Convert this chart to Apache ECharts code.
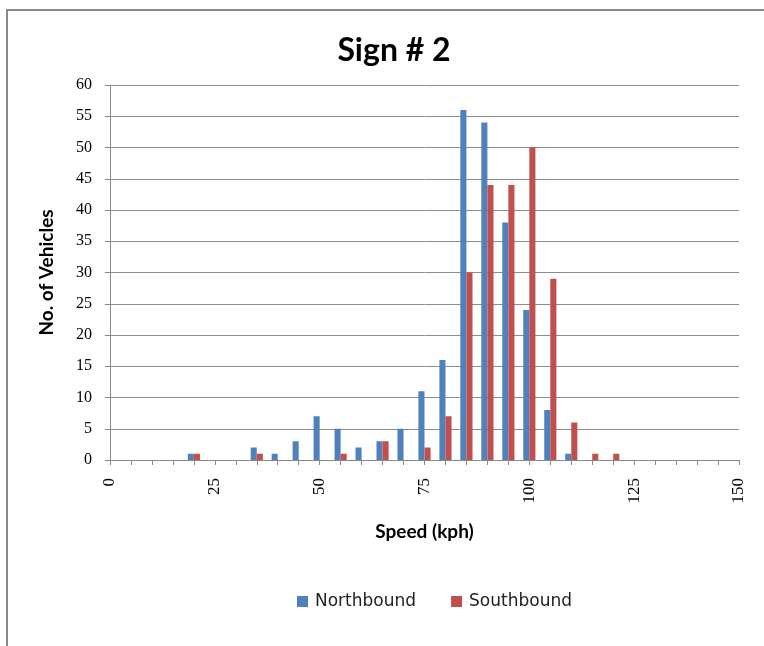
<!DOCTYPE html>
<html>
<head>
<meta charset="utf-8">
<script src="https://cdn.jsdelivr.net/npm/echarts@6/dist/echarts.min.js"></script>
<style>
  html, body { margin: 0; padding: 0; background: #fff; }
  #chart { width: 764px; height: 646px; }
</style>
</head>
<body>
<div id="chart"></div>
<script>
// Speed bins (kph), one category per 5 kph
const speeds = ['0','5','10','15','20','25','30','35','40','45','50','55','60','65','70','75',
                '80','85','90','95','100','105','110','115','120','125','130','135','140','145','150'];

// Vehicle counts per speed bin
const northbound = [0,0,0,0,1,0,0,2,1,3,7,5,2,3,5,11,16,56,54,38,24,8,1,0,0,0,0,0,0,0,0];
const southbound = [0,0,0,0,1,0,0,1,0,0,0,1,0,3,0,2,7,30,44,44,50,29,6,1,1,0,0,0,0,0,0];

const seriesNames = ['Northbound', 'Southbound'];
const colors = ['#4F81BD', '#C0504D'];

const chart = echarts.init(document.getElementById('chart'));

chart.setOption({
  animation: false,
  backgroundColor: '#ffffff',
  title: {
    text: 'Sign # 2',
    left: 389,
    textAlign: 'center',
    top: 30,
    textStyle: { fontFamily: 'Lato', fontWeight: 'bold', fontSize: 32, color: '#000' }
  },
  graphic: [{
    type: 'rect',
    shape: { x: 7, y: 10, width: 820, height: 700 },
    style: { fill: null, stroke: '#8a8a8a', lineWidth: 2 },
    silent: true
  }],
  legend: {
    data: seriesNames,
    left: 292,
    top: 588,
    itemWidth: 11,
    itemHeight: 11,
    itemGap: 35,
    icon: 'rect',
    textStyle: { fontFamily: 'DejaVu Sans', fontSize: 17, color: '#222', padding: [0, 0, 0, 2] }
  },
  grid: { left: 110, right: 25, top: 85, bottom: 186, containLabel: false },
  xAxis: {
    type: 'category',
    data: speeds,
    boundaryGap: false,
    name: 'Speed (kph)',
    nameLocation: 'middle',
    nameGap: 62,
    nameTextStyle: { fontFamily: 'Lato', fontWeight: 'bold', fontSize: 19, color: '#000' },
    axisLine: { lineStyle: { color: '#888', width: 1 } },
    axisTick: { show: true, interval: 0, length: 5, lineStyle: { color: '#888' } },
    axisLabel: {
      interval: 4,
      rotate: 90,
      margin: 18,
      fontFamily: 'Liberation Serif',
      fontSize: 17,
      color: '#000'
    },
    splitLine: { show: false }
  },
  yAxis: {
    type: 'value',
    min: 0,
    max: 60,
    interval: 5,
    name: 'No. of Vehicles',
    nameLocation: 'middle',
    nameRotate: 90,
    nameGap: 54,
    nameTextStyle: { fontFamily: 'Lato', fontWeight: 'bold', fontSize: 19, color: '#000' },
    axisLine: { show: true, lineStyle: { color: '#888', width: 1 } },
    axisTick: { show: true, length: 5, lineStyle: { color: '#888' } },
    axisLabel: { margin: 18, fontFamily: 'Liberation Serif', fontSize: 16, color: '#000' },
    splitLine: { show: true, lineStyle: { color: '#8c8c8c', width: 1 } }
  },
  series: [
    {
      name: seriesNames[0],
      type: 'bar',
      data: northbound,
      barGap: '0%',
      barCategoryGap: '42%',
      itemStyle: { color: colors[0] }
    },
    {
      name: seriesNames[1],
      type: 'bar',
      data: southbound,
      barGap: '0%',
      barCategoryGap: '42%',
      itemStyle: { color: colors[1] }
    }
  ]
});
</script>
</body>
</html>
